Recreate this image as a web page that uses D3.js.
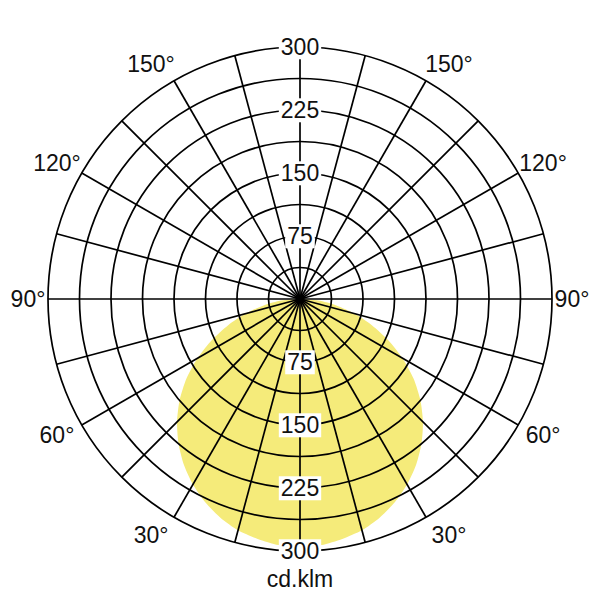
<!DOCTYPE html>
<html>
<head>
<meta charset="utf-8">
<script src="https://cdn.jsdelivr.net/npm/d3@7"></script>
<style>
  html, body { margin: 0; padding: 0; background: #fff; }
  svg { display: block; }
  text { font-family: "Liberation Sans", Arial, sans-serif; fill: #111; }
</style>
</head>
<body>
<svg id="chart" width="600" height="600"></svg>
<script>
// ---- data ----
// gamma angles (degrees from nadir, negative = left side)
const gammaAngles = [-90,-85,-80,-75,-70,-65,-60,-55,-50,-45,-40,-35,-30,-25,-20,-15,-10,-5,
                     0,5,10,15,20,25,30,35,40,45,50,55,60,65,70,75,80,85,90];
// luminous intensity, cd/klm
const intensityValues = [0,22,44,67,91,116,141,165,187,207,225,241,255,267,277,285,290,294,
                         295,294,290,285,277,267,255,241,225,207,187,165,141,116,91,67,44,22,0];
const ringValues = [37.5,75,112.5,150,187.5,225,262.5,300];
const radialLabels = [75,150,225,300];
const spokeAngles = [0,15,30,45,60,75,90,105,120,135,150,165,180,195,210,225,240,255,270,285,300,315,330,345];
const angleLabels = [30,60,90,120,150];
const unitLabel = "cd.klm";
const maxValue = 300;

// ---- layout ----
const cx = 300, cy = 299, R = 252;
const svg = d3.select("#chart");
const g = svg.append("g").attr("transform", `translate(${cx},${cy})`);
const r = d3.scaleLinear().domain([0, maxValue]).range([0, R]);
const toRad = d => d * Math.PI / 180;

// d3 radial angle: 0 = up, clockwise. nadir = PI
const pts = gammaAngles.map((a, i) => ({ a: Math.PI - toRad(a), v: intensityValues[i] }));

// yellow distribution
g.append("path")
  .datum(pts)
  .attr("d", d3.lineRadial().angle(d => d.a).radius(d => r(d.v)).curve(d3.curveCardinalClosed.tension(0.3)))
  .attr("fill", "#f5eb7a")
  .attr("stroke", "none");

// rings
g.selectAll("circle.ring").data(ringValues).join("circle")
  .attr("class", "ring")
  .attr("r", d => r(d))
  .attr("fill", "none")
  .attr("stroke", "#000")
  .attr("stroke-width", 1.7);

// spokes
g.selectAll("line.spoke").data(spokeAngles).join("line")
  .attr("class", "spoke")
  .attr("x1", 0).attr("y1", 0)
  .attr("x2", d => r(maxValue) * Math.sin(toRad(d)))
  .attr("y2", d => -r(maxValue) * Math.cos(toRad(d)))
  .attr("stroke", "#000")
  .attr("stroke-width", 1.7);

// center dot
g.append("circle").attr("r", 4.5).attr("fill", "#000");

// radial value labels (up and down the vertical axis)
const radialData = [];
radialLabels.forEach(v => { radialData.push({ v, s: -1 }); radialData.push({ v, s: 1 }); });
const rl = g.selectAll("g.rlab").data(radialData).join("g")
  .attr("class", "rlab")
  .attr("transform", d => `translate(0,${d.s * r(d.v)})`);
rl.append("text")
  .attr("text-anchor", "middle")
  .attr("dy", "0.36em")
  .attr("font-size", 23)
  .text(d => d.v);
rl.each(function() {
  const grp = d3.select(this);
  const bb = grp.select("text").node().getBBox();
  grp.insert("rect", "text")
    .attr("x", bb.x - 2).attr("y", bb.y + 1)
    .attr("width", bb.width + 4).attr("height", bb.height - 2)
    .attr("fill", "#fff");
});

// angle labels on both sides, top and bottom
const angData = [];
angleLabels.forEach(a => { angData.push({ a, s: -1 }); angData.push({ a, s: 1 }); });
g.selectAll("text.alab").data(angData).join("text")
  .attr("class", "alab")
  .attr("text-anchor", "middle")
  .attr("dy", "0.36em")
  .attr("font-size", 23)
  .attr("x", d => d.s * ((R + 20) * Math.sin(toRad(d.a)) + 15 * Math.abs(Math.cos(toRad(d.a)))))
  .attr("y", d => (R + 20) * Math.cos(toRad(d.a)))
  .text(d => d.a + "°");

// unit label
g.append("text")
  .attr("text-anchor", "middle")
  .attr("font-size", 23)
  .attr("x", 0)
  .attr("y", r(maxValue) + 36)
  .text(unitLabel);
</script>
</body>
</html>
